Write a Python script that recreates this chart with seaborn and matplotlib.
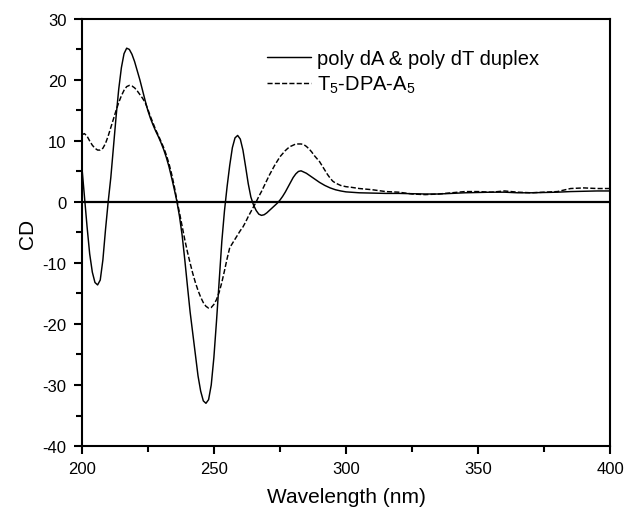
import pandas as pd
import matplotlib.pyplot as plt
import seaborn as sns
from matplotlib.ticker import MultipleLocator

# poly dA & poly dT duplex (solid)
wl_duplex = [200, 201, 202, 203, 204, 205, 206, 207, 208, 209,
             210, 211, 212, 213, 214, 215, 216, 217, 218, 219,
             220, 221, 222, 223, 224, 225, 226, 227, 228, 229,
             230, 231, 232, 233, 234, 235, 236, 237, 238, 239,
             240, 241, 242, 243, 244, 245, 246, 247, 248, 249,
             250, 251, 252, 253, 254, 255, 256, 257, 258, 259,
             260, 261, 262, 263, 264, 265, 266, 267, 268, 269,
             270, 271, 272, 273, 274, 275, 276, 277, 278, 279,
             280, 281, 282, 283, 284, 285, 286, 287, 288, 289,
             290, 292, 294, 296, 298, 300, 305, 310, 315, 320,
             325, 330, 335, 340, 345, 350, 355, 360, 365, 370,
             375, 380, 385, 390, 395, 400]
cd_duplex = [6.0, 1.0, -4.0, -8.5, -11.5, -13.2, -13.6, -12.8, -9.5, -4.5,
             0.0, 4.0, 9.0, 14.0, 18.5, 22.0, 24.3, 25.2, 25.0, 24.2,
             23.0, 21.5, 20.0, 18.3, 16.6, 15.0, 13.7, 12.6, 11.6, 10.7,
             9.7, 8.6, 7.3, 5.8, 4.0, 2.1, 0.1, -2.4, -5.5, -9.5,
             -13.8, -18.0, -21.5, -25.0, -28.5, -31.0, -32.6, -33.0, -32.4, -30.0,
             -25.5, -19.5, -13.0, -6.5, -1.5, 2.5, 6.0, 8.9, 10.5, 10.9,
             10.3, 8.5, 5.8, 3.0, 0.8, -0.5, -1.4, -2.0, -2.2, -2.1,
             -1.8, -1.4, -1.0, -0.6, -0.2, 0.3, 0.9, 1.6, 2.4, 3.2,
             4.0, 4.6, 5.0, 5.1, 4.9, 4.7, 4.4, 4.1, 3.8, 3.5,
             3.2, 2.7, 2.3, 2.0, 1.8, 1.65, 1.5, 1.45, 1.4, 1.4,
             1.35, 1.3, 1.3, 1.4, 1.5, 1.55, 1.6, 1.6, 1.5, 1.5,
             1.55, 1.6, 1.7, 1.75, 1.8, 1.8]

# T5-DPA-A5 (dashed)
wl_dpa = [200, 201, 202, 203, 204, 205, 206, 207, 208, 209,
          210, 211, 212, 213, 214, 215, 216, 217, 218, 219,
          220, 221, 222, 223, 224, 225, 226, 227, 228, 229,
          230, 231, 232, 233, 234, 235, 236, 237, 238, 239,
          240, 241, 242, 243, 244, 245, 246, 247, 248, 249,
          250, 251, 252, 253, 254, 255, 256, 257, 258, 259,
          260, 261, 262, 263, 264, 265, 266, 267, 268, 269,
          270, 271, 272, 273, 274, 275, 276, 277, 278, 279,
          280, 281, 282, 283, 284, 285, 286, 287, 288, 289,
          290, 291, 292, 293, 294, 295, 296, 298, 300, 302,
          305, 310, 315, 320, 325, 330, 335, 340, 345, 350,
          355, 360, 365, 370, 375, 380, 385, 390, 395, 400]
cd_dpa = [11.0, 11.2, 10.8, 10.0, 9.3, 8.8, 8.5, 8.5, 8.8, 9.6,
          10.8, 12.2, 13.6, 15.0, 16.3, 17.4, 18.3, 18.9, 19.1, 19.0,
          18.7, 18.2, 17.6, 17.0, 16.3, 15.2, 14.0, 12.9, 11.8, 10.9,
          9.9, 8.9, 7.7, 6.3, 4.6, 2.6, 0.3, -1.8, -4.0, -6.2,
          -8.2, -10.0, -11.7, -13.2, -14.5, -15.6, -16.5, -17.1, -17.4, -17.3,
          -16.8, -16.0, -14.8, -13.2, -11.3, -9.3, -7.5, -6.8, -6.1, -5.4,
          -4.7, -4.1, -3.3, -2.4, -1.6, -0.8, 0.0, 0.9, 1.7, 2.6,
          3.5, 4.4, 5.2, 6.0, 6.7, 7.4, 7.9, 8.4, 8.8, 9.1,
          9.3, 9.5, 9.5, 9.5, 9.4, 9.1, 8.7, 8.2, 7.6, 7.1,
          6.6, 5.9, 5.2, 4.5, 3.9, 3.4, 3.1, 2.7, 2.5, 2.4,
          2.2, 2.0, 1.7, 1.6, 1.3, 1.2, 1.3, 1.5, 1.7, 1.7,
          1.6, 1.8, 1.6, 1.5, 1.6, 1.7, 2.2, 2.3, 2.2, 2.2]

label_duplex = 'poly dA & poly dT duplex'
label_dpa = 'T$_\\mathregular{5}$-DPA-A$_\\mathregular{5}$'

df = pd.concat([
    pd.DataFrame({'wl': wl_duplex, 'cd': cd_duplex, 'sample': label_duplex}),
    pd.DataFrame({'wl': wl_dpa, 'cd': cd_dpa, 'sample': label_dpa}),
])

sns.set_style('ticks')
plt.rcParams['font.family'] = ['Liberation Sans', 'DejaVu Sans']
plt.rcParams['mathtext.fontset'] = 'custom'
plt.rcParams['mathtext.rm'] = 'Liberation Sans'
plt.rcParams['axes.unicode_minus'] = False
plt.rcParams['text.color'] = 'black'
plt.rcParams['axes.labelcolor'] = 'black'
plt.rcParams['xtick.color'] = 'black'
plt.rcParams['ytick.color'] = 'black'

fig = plt.figure(figsize=(6.24, 5.1), dpi=100)
ax = fig.add_axes([0.131, 0.1235, 0.847, 0.8375])

sns.lineplot(data=df, x='wl', y='cd', style='sample',
             dashes={label_duplex: '', label_dpa: (3.5, 1.5)},
             color='black', linewidth=1.05, sort=False, ax=ax)
ax.axhline(0, color='black', linewidth=1.6)

ax.set_xlim(200, 400)
ax.set_ylim(-40, 30)
ax.xaxis.set_major_locator(MultipleLocator(50))
ax.xaxis.set_minor_locator(MultipleLocator(25))
ax.yaxis.set_major_locator(MultipleLocator(10))
ax.yaxis.set_minor_locator(MultipleLocator(5))
ax.tick_params(which='major', direction='out', length=6, width=1.5, labelsize=12, pad=5)
ax.tick_params(which='minor', direction='out', length=4, width=1.5)
for sp in ax.spines.values():
    sp.set_linewidth(1.5)
    sp.set_color('black')

ax.set_xlabel('Wavelength (nm)', fontsize=15, labelpad=8)
ax.set_ylabel('CD', fontsize=15, labelpad=4)

ax.legend(loc='upper left', bbox_to_anchor=(0.35, 0.93), frameon=False,
          fontsize=14.5, handlelength=2.2, handletextpad=0.3,
          labelspacing=0.3, borderpad=0, borderaxespad=0)

plt.savefig('out.png', dpi=100)
plt.close()
